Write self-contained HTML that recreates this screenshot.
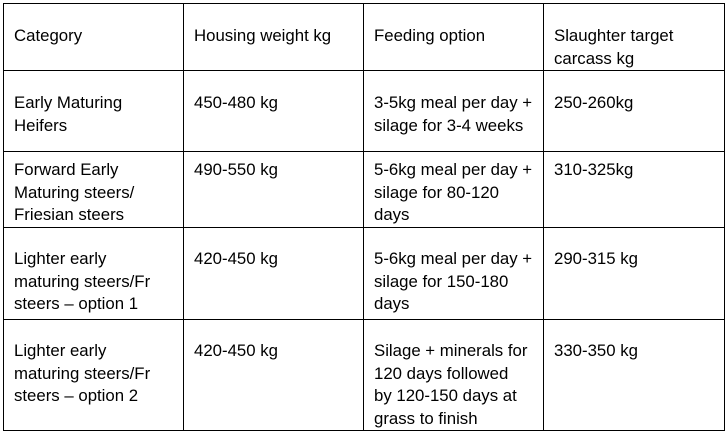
<!DOCTYPE html>
<html><head><style>
body{margin:0;width:727px;height:435px;background:#fff;position:relative;overflow:hidden;font-family:"Liberation Sans",sans-serif;font-size:16.8px;color:#000}
.l{position:absolute;background:#000}
.t{position:absolute;line-height:22.7px;white-space:nowrap}
</style></head><body>
<div class="l" style="left:3px;top:3px;width:722px;height:1px"></div>
<div class="l" style="left:3px;top:70px;width:722px;height:1px"></div>
<div class="l" style="left:3px;top:151px;width:722px;height:1px"></div>
<div class="l" style="left:3px;top:227px;width:722px;height:1px"></div>
<div class="l" style="left:3px;top:319px;width:722px;height:1px"></div>
<div class="l" style="left:3px;top:430px;width:722px;height:1px"></div>
<div class="l" style="left:3px;top:3px;width:1px;height:428px"></div>
<div class="l" style="left:183px;top:3px;width:1px;height:428px"></div>
<div class="l" style="left:363px;top:3px;width:1px;height:428px"></div>
<div class="l" style="left:543px;top:3px;width:1px;height:428px"></div>
<div class="l" style="left:724px;top:3px;width:1px;height:428px"></div>

<div class="t" style="left:14px;top:25px">Category</div>
<div class="t" style="left:194px;top:25px">Housing weight kg</div>
<div class="t" style="left:374px;top:25px">Feeding option</div>
<div class="t" style="left:554px;top:25px">Slaughter target<br>carcass kg</div>

<div class="t" style="left:14px;top:92px">Early Maturing<br>Heifers</div>
<div class="t" style="left:194px;top:92px">450-480 kg</div>
<div class="t" style="left:374px;top:92px">3-5kg meal per day +<br>silage for 3-4 weeks</div>
<div class="t" style="left:554px;top:92px">250-260kg</div>

<div class="t" style="left:14px;top:159px">Forward Early<br>Maturing steers/<br>Friesian steers</div>
<div class="t" style="left:194px;top:159px">490-550 kg</div>
<div class="t" style="left:374px;top:159px">5-6kg meal per day +<br>silage for 80-120<br>days</div>
<div class="t" style="left:554px;top:159px">310-325kg</div>

<div class="t" style="left:14px;top:248px">Lighter early<br>maturing steers/Fr<br>steers – option 1</div>
<div class="t" style="left:194px;top:248px">420-450 kg</div>
<div class="t" style="left:374px;top:248px">5-6kg meal per day +<br>silage for 150-180<br>days</div>
<div class="t" style="left:554px;top:248px">290-315 kg</div>

<div class="t" style="left:14px;top:340px">Lighter early<br>maturing steers/Fr<br>steers – option 2</div>
<div class="t" style="left:194px;top:340px">420-450 kg</div>
<div class="t" style="left:374px;top:340px">Silage + minerals for<br>120 days followed<br>by 120-150 days at<br>grass to finish</div>
<div class="t" style="left:554px;top:340px">330-350 kg</div>
</body></html>
